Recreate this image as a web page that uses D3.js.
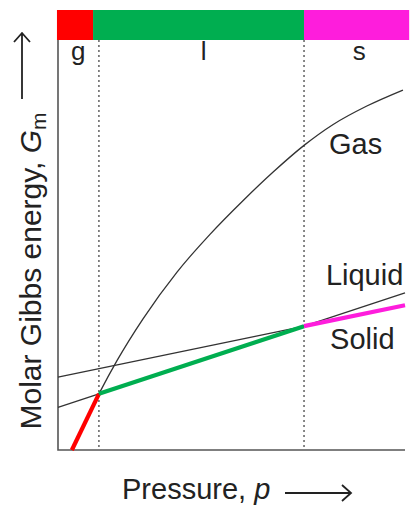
<!DOCTYPE html>
<html>
<head>
<meta charset="utf-8">
<script src="https://cdn.jsdelivr.net/npm/d3@7"></script>
<style>
  html, body { margin: 0; padding: 0; background: #fff; }
  svg { display: block; font-family: "Liberation Sans", Arial, Helvetica, sans-serif; }
</style>
</head>
<body>
<svg id="chart" width="410" height="506"></svg>
<script>
// Molar Gibbs energy of the three phases against pressure (arbitrary units)
const gasP = [4.0, 11.8, 17.0, 24.5, 34.3, 43.8, 53.3, 62.0, 70.9, 79.3, 89.0, 99.4];
const gasG = [0, 13.7, 21.8, 32.0, 43.4, 52.6, 60.8, 67.8, 74.3, 79.4, 83.9, 87.8];
const liquidP = [0, 100];
const liquidG = [10.4, 38.3];
const solidP = [0, 100];
const solidG = [17.8, 35.3];

// transition pressures (gas→liquid, liquid→solid)
const transitions = [11.8, 70.9];

// phase bar across the top
const phaseNames = ["g", "l", "s"];
const phaseBounds = [-0.3, 10.1, 70.9, 101.2];
const phaseColors = ["#ff0000", "#00ae50", "#fe1ddc"];

const svg = d3.select("#chart");
const x = d3.scaleLinear().domain([0, 100]).range([58, 405]);
const y = d3.scaleLinear().domain([0, 100]).range([450, 40]);

const pts = (ps, gs) => ps.map((p, i) => [p, gs[i]]);
const gas = pts(gasP, gasG);
const liquid = pts(liquidP, liquidG);
const solid = pts(solidP, solidG);

const line = d3.line().x(d => x(d[0])).y(d => y(d[1]));
const smooth = d3.line().x(d => x(d[0])).y(d => y(d[1])).curve(d3.curveMonotoneX);

// interpolate a straight phase line at a given pressure
const at = (series, p) => {
  const [a, b] = series;
  return [p, a[1] + (b[1] - a[1]) * (p - a[0]) / (b[0] - a[0])];
};

// phase bar
svg.append("g").selectAll("rect")
  .data(phaseNames)
  .join("rect")
  .attr("x", (d, i) => x(phaseBounds[i]))
  .attr("width", (d, i) => x(phaseBounds[i + 1]) - x(phaseBounds[i]))
  .attr("y", 10)
  .attr("height", 30)
  .attr("fill", (d, i) => phaseColors[i]);

// phase letters under the bar
const labelP = [5.8, 42.0, 86.8];
svg.append("g").selectAll("text")
  .data(phaseNames)
  .join("text")
  .attr("x", (d, i) => x(labelP[i]))
  .attr("y", 60)
  .attr("text-anchor", "middle")
  .attr("font-size", 26)
  .attr("fill", "#222")
  .text(d => d);

// dotted transition markers
svg.append("g").selectAll("line")
  .data(transitions)
  .join("line")
  .attr("x1", d => x(d)).attr("x2", d => x(d))
  .attr("y1", 40).attr("y2", y(0))
  .attr("stroke", "#111")
  .attr("stroke-width", 1)
  .attr("stroke-dasharray", "2,3");

// axes
svg.append("path")
  .attr("d", `M${x(0)},${y(100)}V${y(0)}H${x(100)}`)
  .attr("fill", "none")
  .attr("stroke", "#555")
  .attr("stroke-width", 1.6);

// thin curves for each phase
const thin = { fill: "none", stroke: "#333", "stroke-width": 1.3 };
function draw(d, gen, style) {
  const p = svg.append("path").attr("d", gen(d));
  Object.entries(style).forEach(([k, v]) => p.attr(k, v));
  return p;
}
draw(gas, smooth, thin);
draw(liquid, line, thin);
draw(solid, line, thin);

// stable branch highlighted in the colour of each phase
const bold = () => ({ fill: "none", "stroke-width": 4.2, "stroke-linecap": "butt" });
const gasStable = gas.filter(d => d[0] <= transitions[0]);
draw(gasStable, line, bold()).attr("stroke", phaseColors[0]);
draw([at(liquid, transitions[0]), at(liquid, transitions[1])], line, bold()).attr("stroke", phaseColors[1]);
draw([at(solid, transitions[1]), at(solid, 100)], line, bold()).attr("stroke", phaseColors[2]);

// curve labels
const lab = svg.append("g").attr("font-size", 29).attr("fill", "#222");
lab.append("text").attr("x", x(78.1)).attr("y", y(72.2)).text("Gas");
lab.append("text").attr("x", x(77.2)).attr("y", y(40.3)).text("Liquid");
lab.append("text").attr("x", x(78.4)).attr("y", y(24.6)).text("Solid");

// axis titles with arrows
const arrowStyle = g => g.attr("fill", "none").attr("stroke", "#222").attr("stroke-width", 1.8);

const xt = svg.append("text")
  .attr("x", 122).attr("y", 499)
  .attr("font-size", 29).attr("fill", "#222");
xt.append("tspan").text("Pressure, ");
xt.append("tspan").attr("font-style", "italic").text("p");
svg.append("path").call(arrowStyle)
  .attr("d", "M285,493H351M342,485L351,493L342,501");

const yt = svg.append("text")
  .attr("transform", "translate(41,271) rotate(-90)")
  .attr("text-anchor", "middle")
  .attr("font-size", 30).attr("fill", "#222");
yt.append("tspan").text("Molar Gibbs energy,  ");
yt.append("tspan").attr("font-style", "italic").text("G");
yt.append("tspan").attr("font-size", 21).attr("dy", 5).text("m");
svg.append("path").call(arrowStyle)
  .attr("d", "M22,99V33M14,42L22,33L30,42");
</script>
</body>
</html>
